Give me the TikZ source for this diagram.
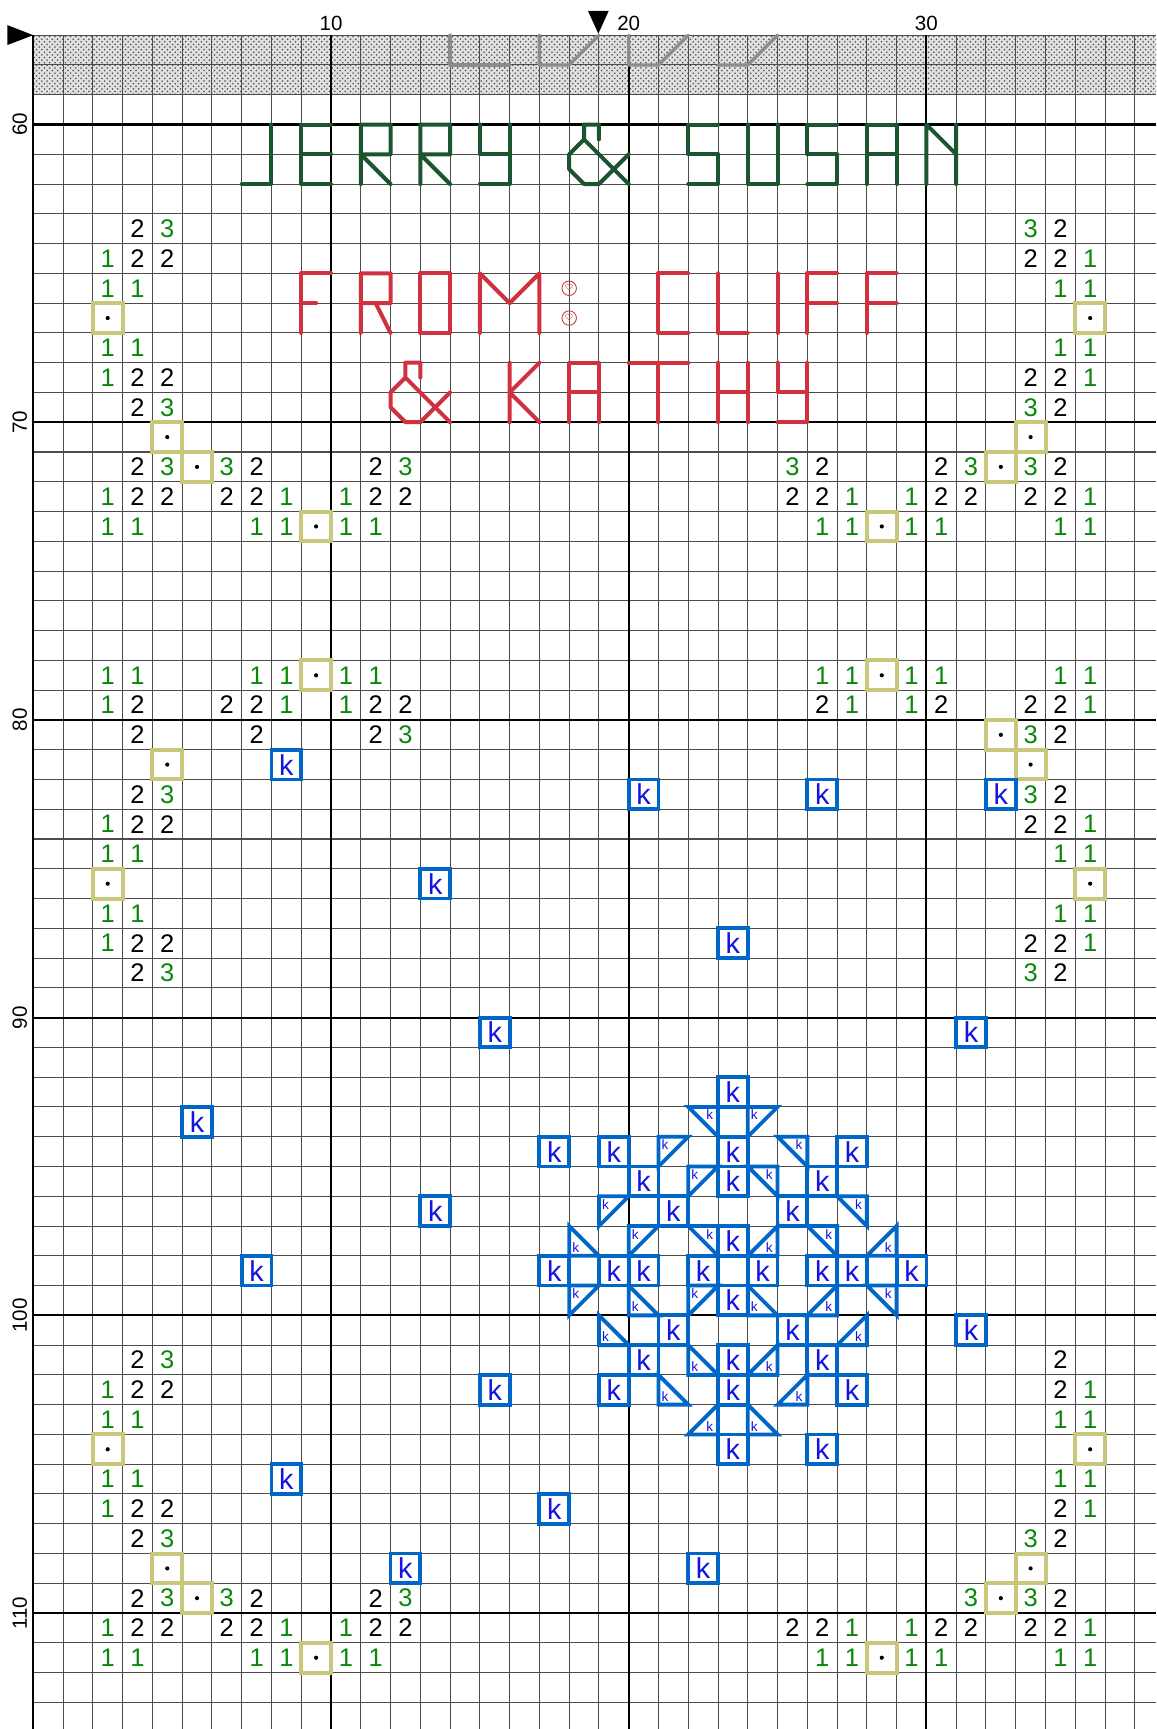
\documentclass[tikz,border=0pt]{standalone}
\usepackage{fontspec}
\setmainfont{Liberation Sans}
\usetikzlibrary{positioning, patterns}
\definecolor{gridline}{HTML}{4C4C4C}
\definecolor{rulergray}{HTML}{8C8C8C}
\definecolor{stitchgreen}{HTML}{0A870A}
\definecolor{namegreen}{HTML}{1B5530}
\definecolor{namered}{HTML}{D0313F}
\definecolor{khaki}{HTML}{C9C77C}
\definecolor{kline}{HTML}{0066C8}
\definecolor{ktext}{HTML}{1414E0}
\newcommand{\symsize}{\fontsize{14.6}{15}\selectfont}
\newcommand{\ksize}{\fontsize{16.5}{17}\selectfont}
\newcommand{\ksmall}{\fontsize{7.8}{8}\selectfont}
\newcommand{\rulersize}{\fontsize{11.8}{12}\selectfont}
\tikzset{
  minor/.style={draw=gridline, line width=0.6pt},
  major/.style={draw=black, line width=1.2pt},
  symbol/.style={inner sep=0pt, font=\symsize},
  sym one/.style={symbol, text=stitchgreen},
  sym two/.style={symbol, text=black},
  sym three/.style={symbol, text=stitchgreen},
  beadbox/.style={draw=khaki, line width=2.3pt},
  kbox/.style={draw=kline, line width=2.2pt, line join=miter},
  kmark/.style={inner sep=0pt, text=ktext, font=\ksize},
  khalf/.style={inner sep=0pt, text=ktext, font=\ksmall},
  greenname/.style={draw=namegreen, line width=2.3pt, line cap=round, line join=round},
  redname/.style={draw=namered, line width=2.3pt, line cap=round, line join=round},
  rulerstitch/.style={draw=rulergray, line width=1.9pt, line cap=round, line join=round},
  knot/.style={circle, draw=namered, line width=0.5pt, inner sep=0pt, minimum size=8.3pt,
    text=namered, font=\fontsize{4}{4}\selectfont},
  rulernum/.style={inner sep=0pt, font=\rulersize}
}
\begin{document}
\begin{tikzpicture}[x=0.6cm, y=-0.6cm]
  \useasboundingbox (-1.1186,55.818) rectangle (37.713,113.896);

  % ruler band and grid
  \fill[black!12] (0,57) rectangle (37.713,59);
  \fill[pattern=crosshatch dots, pattern color=black!70] (0,57) rectangle (37.713,59);
  \foreach \c in {0,...,37} \draw[minor] (\c,57) -- (\c,113.896);
  \foreach \r in {57,...,113} \draw[minor] (0,\r) -- (37.713,\r);
  \foreach \c in {0,10,20,30} \draw[major] (\c,57) -- (\c,113.896);
  \foreach \r in {60,70,...,110} \draw[major] (0,\r) -- (37.713,\r);

  % ruler numbers and centre markers
  \foreach \c in {10,20,30} \node[rulernum] (top\c) at (\c,56.6) {\c};
  \foreach \r in {60,70,...,110} \node[rulernum, rotate=90] (side\r) at (-0.45,\r) {\r};
  \fill (-0.873,56.66) -- (-0.873,57.33) -- (0,57) -- cycle;
  \fill (18.63,56.18) -- (19.33,56.18) -- (18.98,56.95) -- cycle;

  % stitches carried over from the page above
  \draw[rulerstitch] (14,57) -- (14,58) -- (16,58);
  \draw[rulerstitch] (17,57) -- (17,58) -- (18,58) -- (19,57);
  \draw[rulerstitch] (20,57) -- (20,58) -- (21,58) -- (22,57);
  \draw[rulerstitch] (23,58) -- (24,58) -- (25,57);

  % JERRY & SUSAN
  \draw[greenname] (7,62) -- (8,62) -- (8,60);
  \draw[greenname] (10,60) -- (9,60) -- (9,62) -- (10,62) (9,61) -- (10,61);
  \draw[greenname] (11,62) -- (11,60) -- (12,60) -- (12,61) -- (11,61) -- (12,62);
  \draw[greenname] (13,62) -- (13,60) -- (14,60) -- (14,61) -- (13,61) -- (14,62);
  \draw[greenname] (15,60) -- (15,61) -- (16,61) (16,60) -- (16,62) -- (15,62);
  \draw[greenname] (19,60.5) -- (19,60) -- (18.5,60) -- (18.5,60.5) -- (18,61) -- (18,61.5)
    -- (18.5,62) -- (19,62) -- (20,61) (18.5,60.5) -- (20,62);
  \draw[greenname] (23,60) -- (22,60) -- (22,61) -- (23,61) -- (23,62) -- (22,62);
  \draw[greenname] (24,60) -- (24,62) -- (25,62) -- (25,60);
  \draw[greenname] (27,60) -- (26,60) -- (26,61) -- (27,61) -- (27,62) -- (26,62);
  \draw[greenname] (28,62) -- (28,60) -- (29,60) -- (29,62) (28,61) -- (29,61);
  \draw[greenname] (30,62) -- (30,60) -- (31,61) (31,60) -- (31,62);

  % FROM: CLIFF & KATHY
  \draw[redname] (10,65) -- (9,65) -- (9,67) (9,66) -- (9.5,66);
  \draw[redname] (11,67) -- (11,65) -- (12,65) -- (12,66) -- (11,66) (11.5,66) -- (12,67);
  \draw[redname] (13,65) rectangle (14,67);
  \draw[redname] (15,67) -- (15,65) -- (16,66) -- (17,65) -- (17,67);
  \node[knot] (knot1) at (18,65.5) {$\heartsuit$};
  \node[knot] (knot2) at (18,66.5) {$\heartsuit$};
  \draw[redname] (22,65) -- (21,65) -- (21,67) -- (22,67);
  \draw[redname] (23,65) -- (23,67) -- (24,67);
  \draw[redname] (25,65) -- (25,67);
  \draw[redname] (27,65) -- (26,65) -- (26,67) (26,66) -- (27,66);
  \draw[redname] (29,65) -- (28,65) -- (28,67) (28,66) -- (29,66);
  \draw[redname] (13,68.5) -- (13,68) -- (12.5,68) -- (12.5,68.5) -- (12,69) -- (12,69.5)
    -- (12.5,70) -- (13,70) -- (14,69) (12.5,68.5) -- (14,70);
  \draw[redname] (16,68) -- (16,70) (17,68) -- (16,69) -- (17,70);
  \draw[redname] (18,70) -- (18,68) -- (19,68) -- (19,70) (18,69) -- (19,69);
  \draw[redname] (20,68) -- (22,68) (21,68) -- (21,70);
  \draw[redname] (23,68) -- (23,70) (24,68) -- (24,70) (23,69) -- (24,69);
  \draw[redname] (25,68) -- (25,69) -- (26,69) (26,68) -- (26,70) -- (25,70);

  % border symbols
  \foreach \c/\r in {2/64,2/65,3/65,2/67,3/67,2/68,2/72,8/72,10/72,2/73,3/73,7/73,8/73,10/73,11/73,
      35/64,34/65,35/65,34/67,35/67,35/68,35/72,29/72,27/72,35/73,34/73,30/73,29/73,27/73,26/73,
      2/78,3/78,7/78,8/78,10/78,11/78,2/79,8/79,10/79,
      26/78,27/78,29/78,30/78,34/78,35/78,27/79,29/79,35/79,
      2/83,2/84,3/84,2/86,3/86,2/87,35/83,34/84,35/84,34/86,35/86,35/87,
      2/102,2/103,3/103,2/105,3/105,2/106,2/110,8/110,10/110,2/111,3/111,7/111,8/111,10/111,11/111,
      35/102,34/103,35/103,34/105,35/105,35/106,35/110,29/110,27/110,35/111,34/111,29/111,30/111,26/111,27/111}
    \node[sym one] (a\c-\r) at (\c+.5,\r+.5) {1};
  \foreach \c/\r in {3/63,3/64,4/64,3/68,4/68,3/69,3/71,7/71,11/71,3/72,4/72,6/72,7/72,11/72,12/72,
      34/63,33/64,34/64,33/68,34/68,34/69,34/71,30/71,26/71,34/72,33/72,31/72,30/72,26/72,25/72,
      3/79,6/79,7/79,11/79,12/79,3/80,7/80,11/80,26/79,30/79,33/79,34/79,34/80,
      3/82,3/83,4/83,3/87,4/87,3/88,34/82,33/83,34/83,33/87,34/87,34/88,
      3/101,3/102,4/102,3/106,4/106,3/107,3/109,7/109,11/109,3/110,4/110,6/110,7/110,11/110,12/110,
      34/101,34/102,34/106,34/107,34/109,34/110,33/110,31/110,30/110,26/110,25/110}
    \node[sym two] (b\c-\r) at (\c+.5,\r+.5) {2};
  \foreach \c/\r in {4/63,4/69,4/71,6/71,12/71,33/63,33/69,33/71,31/71,25/71,
      12/80,33/80,4/82,33/82,4/88,33/88,
      4/101,4/107,4/109,6/109,12/109,33/107,33/109,31/109}
    \node[sym three] (d\c-\r) at (\c+.5,\r+.5) {3};
  \foreach \c/\r in {2/66,35/66,4/70,33/70,5/71,32/71,9/73,28/73,9/78,28/78,32/80,4/81,33/81,
      2/85,35/85,2/104,35/104,4/108,33/108,5/109,32/109,9/111,28/111} {
    \draw[beadbox] (\c,\r) rectangle (\c+1,\r+1);
    \fill (\c+.5,\r+.5) circle (1.2pt);
  }

  % full cross stitches
  \foreach \c/\r in {8/81,20/82,26/82,32/82,13/85,23/87,15/90,31/90,5/93,13/96,7/98,31/100,
      15/102,8/105,17/106,12/108,22/108,
      23/92,17/94,19/94,23/94,27/94,20/95,23/95,26/95,21/96,25/96,23/97,
      17/98,19/98,20/98,22/98,24/98,26/98,27/98,29/98,23/99,21/100,25/100,
      20/101,23/101,26/101,19/102,23/102,27/102,23/104,26/104} {
    \draw[kbox] (\c,\r) rectangle (\c+1,\r+1);
    \node[kmark] (k\c-\r) at (\c+.5,\r+.5) {k};
  }

  % half stitches
  \foreach \c/\r in {24/93,21/94,22/95,19/96,20/97,18/99,22/99} {
    \draw[kbox] (\c,\r) -- (\c+1,\r) -- (\c,\r+1) -- cycle;
    \node[khalf] (h\c-\r) at (\c+.22,\r+.27) {k};
  }
  \foreach \c/\r in {22/93,25/94,24/95,27/96,22/97,26/97,28/99} {
    \draw[kbox] (\c,\r) -- (\c+1,\r) -- (\c+1,\r+1) -- cycle;
    \node[khalf] (h\c-\r) at (\c+.72,\r+.27) {k};
  }
  \foreach \c/\r in {18/97,20/99,24/99,19/100,22/101,21/102,24/103} {
    \draw[kbox] (\c,\r) -- (\c,\r+1) -- (\c+1,\r+1) -- cycle;
    \node[khalf] (h\c-\r) at (\c+.22,\r+.72) {k};
  }
  \foreach \c/\r in {24/97,28/97,26/99,27/100,24/101,25/102,22/103} {
    \draw[kbox] (\c+1,\r) -- (\c+1,\r+1) -- (\c,\r+1) -- cycle;
    \node[khalf] (h\c-\r) at (\c+.72,\r+.72) {k};
  }
\end{tikzpicture}
\end{document}
